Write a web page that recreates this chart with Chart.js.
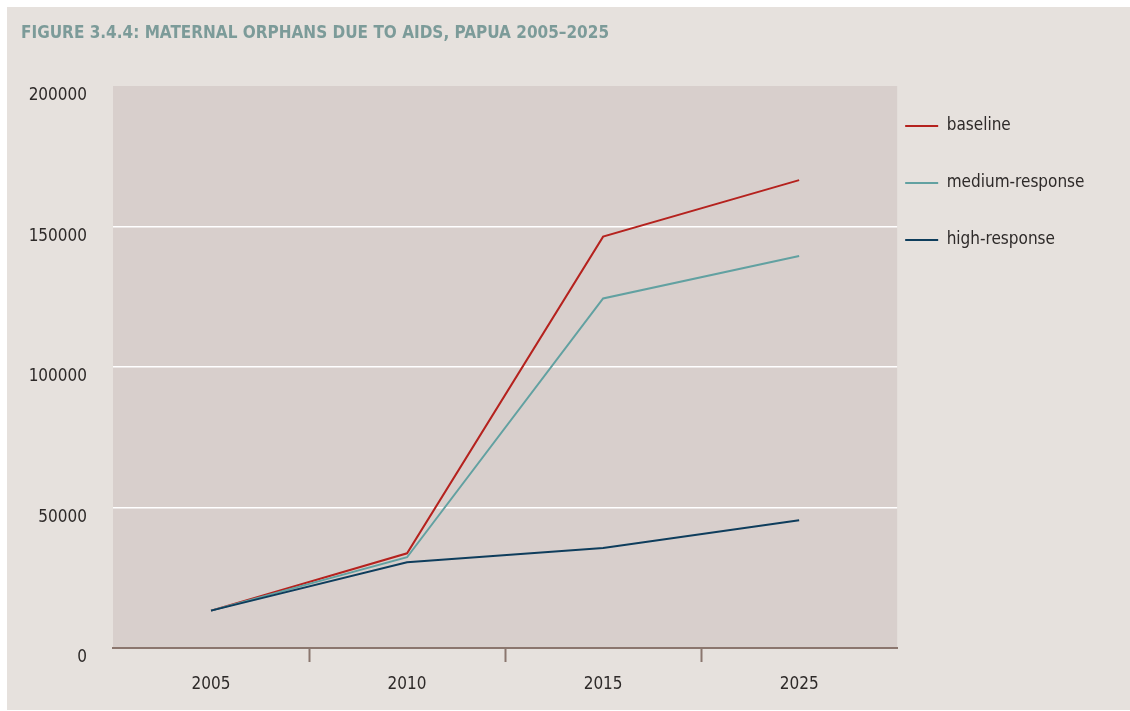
<!DOCTYPE html>
<html>
<head>
<meta charset="utf-8">
<script src="https://cdn.jsdelivr.net/npm/chart.js@4/dist/chart.umd.min.js"></script>
<style>
  html, body { margin: 0; padding: 0; background: #fff; }
  #graph-container { position: absolute; left: 7px; top: 7px; width: 1123px; height: 703px; background: #e6e1dd; }
</style>
</head>
<body>
<div id="graph-container"><canvas id="graph" width="1123" height="703"></canvas></div>
<script>
let years = ['2005', '2010', '2015', '2025']
let baseline = [13300, 33700, 146400, 166500]
let mediumResponse = [13300, 32300, 124400, 139500]
let highResponse = [13300, 30500, 35600, 45500]
let seriesNames = ['baseline', 'medium-response', 'high-response']
let seriesColors = ['#b5221e', '#62a1a1', '#0e3d5c']
let yMax = 200000
let yStep = 50000

let fontName = "'Liberation Sans Narrow', 'DejaVu Sans Condensed', 'Roboto Condensed', sans-serif"
let axisColor = '#8b766e'
let textColor = '#2e2a29'
let legendPad = 40

// shaded plot area behind the lines
const plotBg = {
  id: 'plotBg',
  beforeDraw(chart) {
    let { ctx, chartArea } = chart
    ctx.save()
    ctx.fillStyle = '#d8cfcc'
    ctx.fillRect(chartArea.left, chartArea.top, chartArea.right - chartArea.left, chartArea.bottom - chartArea.top)
    ctx.restore()
  }
}

// pull the legend up next to the plot
const legendShift = {
  id: 'legendShift',
  afterLayout(chart) {
    let lg = chart.legend
    let dx = chart.chartArea.right + 8 - legendPad - lg.left
    lg.left += dx
    lg.right += dx
    lg.top -= 8.5
    lg.bottom -= 8.5
  }
}

let allSeries = [baseline, mediumResponse, highResponse]
let datasets = allSeries.map((d, i) => ({
  label: seriesNames[i],
  data: d,
  borderColor: seriesColors[i],
  backgroundColor: seriesColors[i],
  borderWidth: 2,
  pointRadius: 0,
  tension: 0,
  fill: false
}))

let canvas = document.getElementById('graph')
let ctx = canvas.getContext('2d')
let graph = new Chart(ctx, {
  type: 'line',
  data: { labels: years, datasets: datasets.reverse() },
  options: {
    responsive: false,
    animation: false,
    layout: { padding: { left: 14, right: 3.5, top: 0, bottom: 0 } },
    plugins: {
      title: {
        display: true,
        text: 'FIGURE 3.4.4: MATERNAL ORPHANS DUE TO AIDS, PAPUA 2005–2025',
        align: 'start',
        color: '#7c9b99',
        font: { family: fontName, size: 17, weight: 'bold', lineHeight: 1.2 },
        padding: { top: 16, bottom: 42.6 }
      },
      legend: {
        position: 'right',
        align: 'start',
        fullSize: false,
        reverse: true,
        labels: {
          usePointStyle: true,
          pointStyle: 'line',
          pointStyleWidth: 33,
          padding: legendPad,
          color: textColor,
          font: { family: fontName, size: 17 }
        }
      },
      tooltip: { enabled: false }
    },
    scales: {
      x: {
        offset: true,
        grid: {
          offset: true,
          drawOnChartArea: false,
          drawTicks: true,
          tickLength: 14,
          tickWidth: 2,
          tickColor: (c) => (c.index > 0 && c.index < years.length) ? axisColor : 'transparent'
        },
        border: { display: true, color: axisColor, width: 2 },
        ticks: {
          color: textColor,
          font: { family: fontName, size: 17 },
          padding: 12,
          maxRotation: 0
        },
        afterFit: (scale) => { scale.height = 62 }
      },
      y: {
        min: 0,
        max: yMax,
        grid: {
          drawTicks: false,
          lineWidth: 1.5,
          color: (c) => (c.tick && c.tick.value > 0 && c.tick.value < yMax) ? '#ffffff' : 'transparent'
        },
        border: { display: false },
        ticks: {
          stepSize: yStep,
          padding: 26,
          labelOffset: 10,
          color: textColor,
          font: { family: fontName, size: 17 },
          callback: (v) => String(v)
        },
        afterFit: (scale) => { scale.width = 92 }
      }
    }
  },
  plugins: [plotBg, legendShift]
})
</script>
</body>
</html>
